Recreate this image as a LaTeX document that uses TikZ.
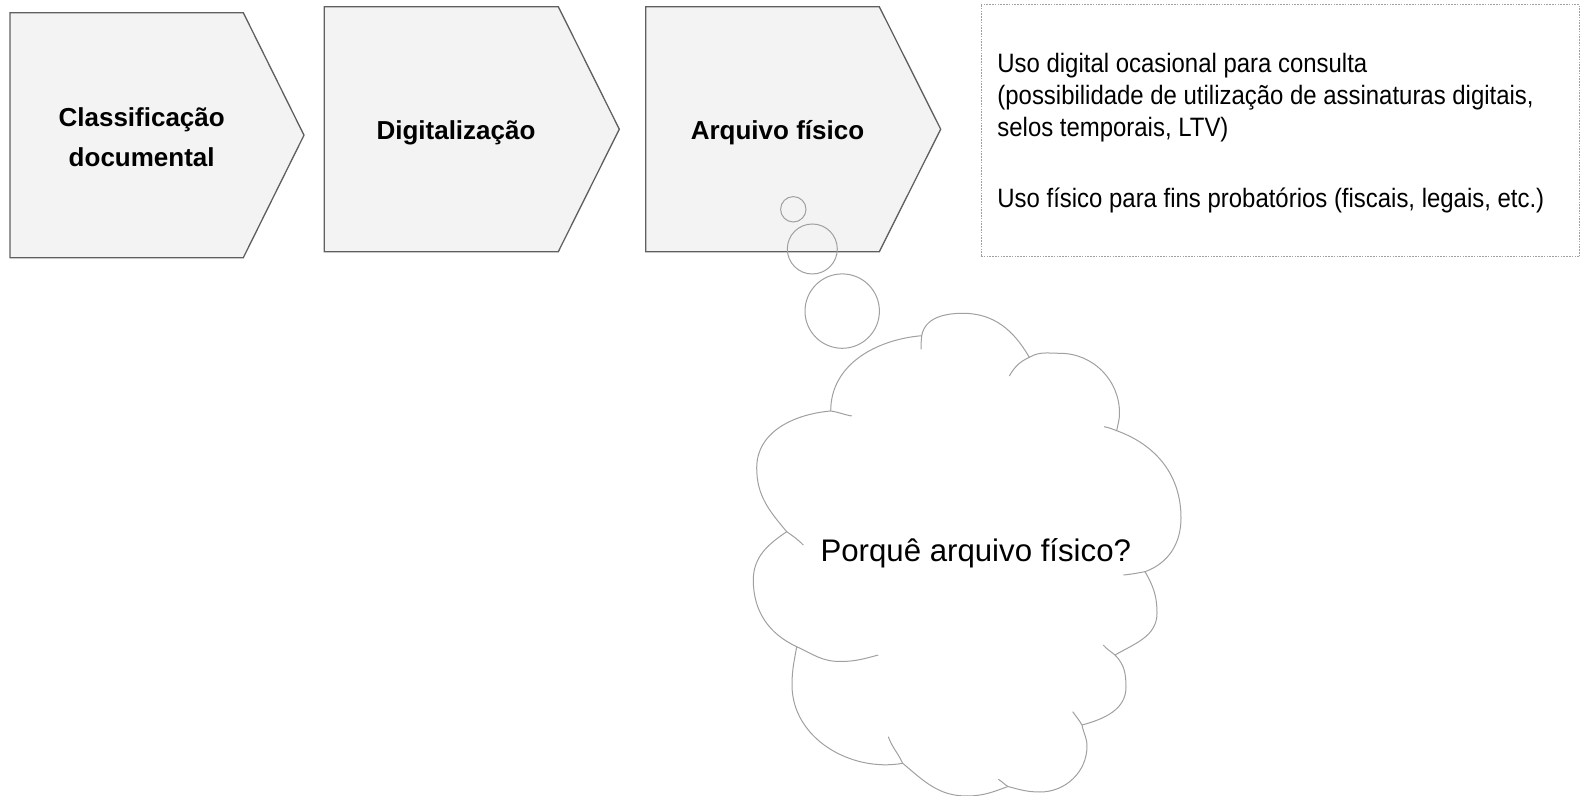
\documentclass[tikz,border=0pt]{standalone}
\usepackage{fontspec}
\setmainfont{Liberation Sans}
\newfontfamily\narrowsans[FakeStretch=0.9]{Liberation Sans}
\usepackage{tikz}

\definecolor{chevfill}{HTML}{F3F3F3}
\definecolor{chevline}{HTML}{5F5F5F}
\definecolor{thinkline}{HTML}{A0A0A0}

\tikzset{
  chevron/.style={draw=chevline, fill=chevfill, line width=0.65pt, line join=miter},
  steplabel/.style={font=\bfseries\fontsize{13}{20.3}\selectfont, align=center, inner sep=0pt},
  bubble/.style={draw=thinkline, line width=0.5pt},
  notebox/.style={draw=thinkline, line width=0.5pt, dash pattern=on 0.8pt off 0.6pt},
}

\begin{document}
\begin{tikzpicture}[x=0.5pt, y=-0.5pt]
      \useasboundingbox (0, 0) rectangle (1580, 796);

      % process steps
      \filldraw[chevron] (10, 12.7) -- (243.3, 12.7) -- (304, 135.2) -- (243.3, 257.7) -- (10, 257.7) -- cycle;
      \filldraw[chevron] (324.3, 6.7) -- (558.3, 6.7) -- (619.3, 129.2) -- (558.3, 251.7) -- (324.3, 251.7) -- cycle;
      \filldraw[chevron] (645.7, 6.7) -- (879.3, 6.7) -- (940.7, 129.2) -- (879.3, 251.7) -- (645.7, 251.7) -- cycle;

      % base of a two-line label is its last line
      \node[steplabel, anchor=base] (cls) at (141.7, 166.7) {Classificação\\documental};
      \node[steplabel, anchor=base] (dig) at (456, 140) {Digitalização};
      \node[steplabel, anchor=base] (arq) at (777.5, 140) {Arquivo físico};

      % note
      \draw[notebox] (981, 5) rectangle (1579.5, 257);
      \node[anchor=base west, inner sep=0pt, align=left,
            font=\narrowsans\fontsize{13.3}{16}\selectfont] (uso) at (997, 208)
        {Uso digital ocasional para consulta\\
         (possibilidade de utilização de assinaturas digitais,\\
         selos temporais, LTV)\\[19.5pt]
         Uso físico para fins probatórios (fiscais, legais, etc.)};

      % thought bubbles
      \draw[bubble] (793.3, 209.3) circle[radius=6.35pt];
      \draw[bubble] (812.3, 249) circle[radius=12.5pt];
      \draw[bubble] (842.2, 311.1) circle[radius=18.6pt];

      % cloud
      \coordinate (j1) at (921.7, 335.7);
      \coordinate (j2) at (1029.3, 357.3);
      \coordinate (j3) at (1116.7, 430.7);
      \coordinate (j4) at (1145, 571.7);
      \coordinate (j5) at (1115, 655);
      \coordinate (j6) at (1082, 725);
      \coordinate (j7) at (1008, 786.5);
      \coordinate (j8) at (902.7, 763.3);
      \coordinate (j9) at (796.7, 646.7);
      \coordinate (j10) at (786.7, 531.7);
      \coordinate (j11) at (830.7, 411);
      \draw[bubble] (j1) to[out=80, in=180] (963, 313.3) to[out=0, in=120] (j2)
        to[out=30, in=180] (1060, 353.3) to[out=0, in=90] (1119.5, 413) to[out=270, in=80] (j3)
        to[out=-20, in=90] (1181, 518) to[out=270, in=20] (j4)
        to[out=-60, in=90] (1157, 613) to[out=270, in=30] (j5)
        to[out=-45, in=90] (1126, 687) to[out=270, in=15] (j6)
        to[out=-80, in=90] (1087, 746) to[out=270, in=0] (1040, 792) to[out=180, in=-15] (j7)
        to[out=200, in=0] (966.7, 796) to[out=180, in=-40] (j8)
        to[out=190, in=270] (792, 685) to[out=90, in=260] (j9)
        to[out=155, in=270] (753.3, 580) to[out=90, in=214] (j10)
        to[out=130, in=270] (756.7, 468) to[out=90, in=185] (j11)
        to[out=90, in=185] (j1);
      \draw[bubble] (j1) to[out=265, in=90] (921, 349.3);
      \draw[bubble] (j2) to[out=205, in=60] (1009.3, 376);
      \draw[bubble] (j3) to[out=160, in=-10] (1104, 426.7);
      \draw[bubble] (j4) to[out=190, in=5] (1123.3, 575);
      \draw[bubble] (j5) to[out=140, in=-50] (1103.3, 645);
      \draw[bubble] (j6) to[out=120, in=-55] (1072.7, 711.7);
      \draw[bubble] (j7) to[out=150, in=-30] (998.3, 779.3);
      \draw[bubble] (j8) to[out=115, in=-70] (888.3, 736.7);
      \draw[bubble] (j9) to[out=-25, in=180] (840, 661.5) to[out=0, in=195] (878.3, 655);
      \draw[bubble] (j10) to[out=-35, in=135] (803.3, 545);
      \draw[bubble] (j11) to[out=-8, in=170] (851.7, 416);

      \node[anchor=base, inner sep=0pt, font=\fontsize{15.6}{18}\selectfont] (why) at (975.8, 561.7) {Porquê arquivo físico?};
\end{tikzpicture}
\end{document}
